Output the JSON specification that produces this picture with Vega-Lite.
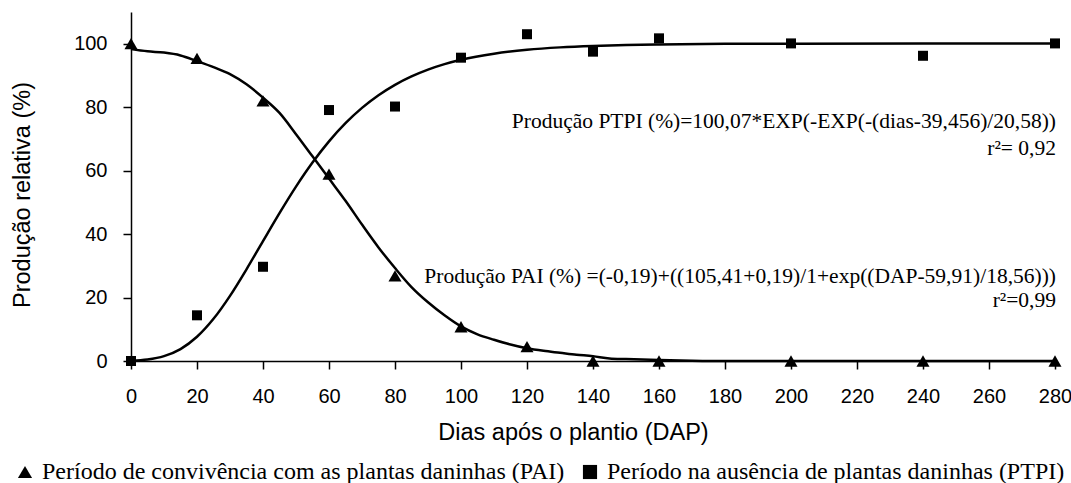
{
  "$schema": "https://vega.github.io/schema/vega-lite/v6.json",
  "width": 924,
  "height": 349,
  "autosize": {"type": "none"},
  "padding": {"left": 131, "top": 12, "right": 16, "bottom": 122},
  "background": "white",
  "config": {
    "view": {"stroke": null},
    "axis": {
      "grid": false,
      "domainColor": "black",
      "domainWidth": 1.5,
      "tickColor": "black",
      "tickWidth": 1.5,
      "tickSize": 8,
      "labelFont": "Liberation Sans",
      "labelFontSize": 20,
      "labelColor": "black",
      "titleFont": "Liberation Sans",
      "titleFontSize": 23.5,
      "titleFontWeight": "normal",
      "titleColor": "black",
      "labelFlush": false,
      "labelOverlap": false
    }
  },
  "datasets": {
    "obs": [
      {"dias": 0, "valor": 100, "serie": "Período de convivência com as plantas daninhas (PAI)"},
      {"dias": 20, "valor": 95.4, "serie": "Período de convivência com as plantas daninhas (PAI)"},
      {"dias": 40, "valor": 82.0, "serie": "Período de convivência com as plantas daninhas (PAI)"},
      {"dias": 60, "valor": 58.9, "serie": "Período de convivência com as plantas daninhas (PAI)"},
      {"dias": 80, "valor": 26.8, "serie": "Período de convivência com as plantas daninhas (PAI)"},
      {"dias": 100, "valor": 10.8, "serie": "Período de convivência com as plantas daninhas (PAI)"},
      {"dias": 120, "valor": 4.5, "serie": "Período de convivência com as plantas daninhas (PAI)"},
      {"dias": 140, "valor": 0, "serie": "Período de convivência com as plantas daninhas (PAI)"},
      {"dias": 160, "valor": 0, "serie": "Período de convivência com as plantas daninhas (PAI)"},
      {"dias": 200, "valor": 0, "serie": "Período de convivência com as plantas daninhas (PAI)"},
      {"dias": 240, "valor": 0, "serie": "Período de convivência com as plantas daninhas (PAI)"},
      {"dias": 280, "valor": 0, "serie": "Período de convivência com as plantas daninhas (PAI)"},
      {"dias": 0, "valor": 0, "serie": "Período na ausência de plantas daninhas (PTPI)"},
      {"dias": 20, "valor": 14.4, "serie": "Período na ausência de plantas daninhas (PTPI)"},
      {"dias": 40, "valor": 29.7, "serie": "Período na ausência de plantas daninhas (PTPI)"},
      {"dias": 60, "valor": 79.1, "serie": "Período na ausência de plantas daninhas (PTPI)"},
      {"dias": 80, "valor": 80.2, "serie": "Período na ausência de plantas daninhas (PTPI)"},
      {"dias": 100, "valor": 95.6, "serie": "Período na ausência de plantas daninhas (PTPI)"},
      {"dias": 120, "valor": 103.0, "serie": "Período na ausência de plantas daninhas (PTPI)"},
      {"dias": 140, "valor": 97.5, "serie": "Período na ausência de plantas daninhas (PTPI)"},
      {"dias": 160, "valor": 101.7, "serie": "Período na ausência de plantas daninhas (PTPI)"},
      {"dias": 200, "valor": 100.1, "serie": "Período na ausência de plantas daninhas (PTPI)"},
      {"dias": 240, "valor": 96.2, "serie": "Período na ausência de plantas daninhas (PTPI)"},
      {"dias": 280, "valor": 100.1, "serie": "Período na ausência de plantas daninhas (PTPI)"}
    ],
    "fit": [
      {"dias": 0, "valor": 98.3, "curva": "PAI"},
      {"dias": 5, "valor": 97.6, "curva": "PAI"},
      {"dias": 10, "valor": 97.2, "curva": "PAI"},
      {"dias": 15, "valor": 96.3, "curva": "PAI"},
      {"dias": 20, "valor": 94.5, "curva": "PAI"},
      {"dias": 25, "valor": 92.6, "curva": "PAI"},
      {"dias": 30, "valor": 90.4, "curva": "PAI"},
      {"dias": 35, "valor": 87.2, "curva": "PAI"},
      {"dias": 40, "valor": 83.0, "curva": "PAI"},
      {"dias": 45, "valor": 78.2, "curva": "PAI"},
      {"dias": 50, "valor": 71.5, "curva": "PAI"},
      {"dias": 55, "valor": 64.5, "curva": "PAI"},
      {"dias": 60, "valor": 57.5, "curva": "PAI"},
      {"dias": 65, "valor": 50.5, "curva": "PAI"},
      {"dias": 70, "valor": 43.0, "curva": "PAI"},
      {"dias": 75, "valor": 35.8, "curva": "PAI"},
      {"dias": 80, "valor": 29.3, "curva": "PAI"},
      {"dias": 85, "valor": 23.3, "curva": "PAI"},
      {"dias": 90, "valor": 18.5, "curva": "PAI"},
      {"dias": 95, "valor": 14.4, "curva": "PAI"},
      {"dias": 100, "valor": 10.9, "curva": "PAI"},
      {"dias": 105, "valor": 8.4, "curva": "PAI"},
      {"dias": 110, "valor": 6.7, "curva": "PAI"},
      {"dias": 115, "valor": 5.2, "curva": "PAI"},
      {"dias": 120, "valor": 4.0, "curva": "PAI"},
      {"dias": 125, "valor": 3.2, "curva": "PAI"},
      {"dias": 130, "valor": 2.6, "curva": "PAI"},
      {"dias": 135, "valor": 2.0, "curva": "PAI"},
      {"dias": 140, "valor": 1.5, "curva": "PAI"},
      {"dias": 145, "valor": 0.8, "curva": "PAI"},
      {"dias": 150, "valor": 0.6, "curva": "PAI"},
      {"dias": 160, "valor": 0.3, "curva": "PAI"},
      {"dias": 170, "valor": 0.1, "curva": "PAI"},
      {"dias": 180, "valor": 0, "curva": "PAI"},
      {"dias": 220, "valor": 0, "curva": "PAI"},
      {"dias": 280, "valor": 0, "curva": "PAI"},
      {"dias": 0, "valor": 0.11, "curva": "PTPI"},
      {"dias": 5, "valor": 0.48, "curva": "PTPI"},
      {"dias": 10, "valor": 1.53, "curva": "PTPI"},
      {"dias": 15, "valor": 3.76, "curva": "PTPI"},
      {"dias": 20, "valor": 7.63, "curva": "PTPI"},
      {"dias": 25, "valor": 13.29, "curva": "PTPI"},
      {"dias": 30, "valor": 20.54, "curva": "PTPI"},
      {"dias": 35, "valor": 28.91, "curva": "PTPI"},
      {"dias": 40, "valor": 37.79, "curva": "PTPI"},
      {"dias": 45, "valor": 46.62, "curva": "PTPI"},
      {"dias": 50, "valor": 54.97, "curva": "PTPI"},
      {"dias": 55, "valor": 62.55, "curva": "PTPI"},
      {"dias": 60, "valor": 69.23, "curva": "PTPI"},
      {"dias": 65, "valor": 74.95, "curva": "PTPI"},
      {"dias": 70, "valor": 79.77, "curva": "PTPI"},
      {"dias": 75, "valor": 83.77, "curva": "PTPI"},
      {"dias": 80, "valor": 87.05, "curva": "PTPI"},
      {"dias": 85, "valor": 89.7, "curva": "PTPI"},
      {"dias": 90, "valor": 91.84, "curva": "PTPI"},
      {"dias": 95, "valor": 93.56, "curva": "PTPI"},
      {"dias": 100, "valor": 94.93, "curva": "PTPI"},
      {"dias": 110, "valor": 96.87, "curva": "PTPI"},
      {"dias": 120, "valor": 98.09, "curva": "PTPI"},
      {"dias": 130, "valor": 98.85, "curva": "PTPI"},
      {"dias": 140, "valor": 99.32, "curva": "PTPI"},
      {"dias": 150, "valor": 99.61, "curva": "PTPI"},
      {"dias": 160, "valor": 99.78, "curva": "PTPI"},
      {"dias": 180, "valor": 99.96, "curva": "PTPI"},
      {"dias": 200, "valor": 100.03, "curva": "PTPI"},
      {"dias": 240, "valor": 100.07, "curva": "PTPI"},
      {"dias": 280, "valor": 100.07, "curva": "PTPI"}
    ]
  },
  "layer": [
    {
      "data": {"name": "fit"},
      "mark": {"type": "line", "color": "black", "strokeWidth": 2.5, "interpolate": "monotone"},
      "encoding": {
        "x": {
          "field": "dias", "type": "quantitative",
          "scale": {"domain": [0, 280], "nice": false, "zero": false},
          "axis": {
            "values": [0, 20, 40, 60, 80, 100, 120, 140, 160, 180, 200, 220, 240, 260, 280],
            "labelPadding": 17,
            "title": "Dias após o plantio (DAP)",
            "titleX": 442,
            "titleY": 78,
            "titleBaseline": "alphabetic"
          }
        },
        "y": {
          "field": "valor", "type": "quantitative",
          "scale": {"domain": [0, 110], "nice": false},
          "axis": {
            "values": [0, 20, 40, 60, 80, 100],
            "labelPadding": 16,
            "title": "Produção relativa (%)",
            "titleX": -101.5,
            "titleY": 182.5,
            "titleAngle": -90,
            "titleAlign": "center",
            "titleBaseline": "alphabetic"
          }
        },
        "detail": {"field": "curva", "type": "nominal"}
      }
    },
    {
      "data": {"name": "obs"},
      "transform": [{"filter": {"field": "serie", "equal": "Período de convivência com as plantas daninhas (PAI)"}}],
      "mark": {"type": "point", "filled": true, "color": "black", "opacity": 1, "strokeWidth": 0, "size": 170},
      "encoding": {
        "x": {"field": "dias", "type": "quantitative"},
        "y": {"field": "valor", "type": "quantitative"},
        "shape": {
          "field": "serie", "type": "nominal",
          "scale": {
            "domain": ["Período de convivência com as plantas daninhas (PAI)", "Período na ausência de plantas daninhas (PTPI)"],
            "range": ["triangle-up", "square"]
          },
          "legend": {
            "orient": "none",
            "legendX": -118,
            "legendY": 448,
            "direction": "horizontal",
            "title": null,
            "padding": 0,
            "labelFont": "Liberation Serif",
            "labelFontSize": 24,
            "labelColor": "black",
            "labelLimit": 2000,
            "labelOffset": 5,
            "columnPadding": 13,
            "symbolSize": 200,
            "symbolFillColor": "black",
            "symbolStrokeColor": "black",
            "symbolStrokeWidth": 0,
            "symbolOpacity": 1
          }
        }
      }
    },
    {
      "data": {"name": "obs"},
      "transform": [{"filter": {"field": "serie", "equal": "Período na ausência de plantas daninhas (PTPI)"}}],
      "mark": {"type": "point", "filled": true, "color": "black", "opacity": 1, "strokeWidth": 0, "size": 100},
      "encoding": {
        "x": {"field": "dias", "type": "quantitative"},
        "y": {"field": "valor", "type": "quantitative"},
        "shape": {"field": "serie", "type": "nominal"}
      }
    },
    {
      "data": {"values": [{"texto": "Produção PTPI (%)=100,07*EXP(-EXP(-(dias-39,456)/20,58))"}]},
      "mark": {"type": "text", "align": "right", "baseline": "alphabetic", "font": "Liberation Serif", "fontSize": 21.5, "color": "black"},
      "encoding": {
        "x": {"datum": 280.3, "type": "quantitative"},
        "y": {"datum": 73.4, "type": "quantitative"},
        "text": {"field": "texto"}
      }
    },
    {
      "data": {"values": [{"texto": "r²= 0,92"}]},
      "mark": {"type": "text", "align": "right", "baseline": "alphabetic", "font": "Liberation Serif", "fontSize": 21.5, "color": "black"},
      "encoding": {
        "x": {"datum": 280.3, "type": "quantitative"},
        "y": {"datum": 64.9, "type": "quantitative"},
        "text": {"field": "texto"}
      }
    },
    {
      "data": {"values": [{"texto": "Produção PAI (%) =(-0,19)+((105,41+0,19)/1+exp((DAP-59,91)/18,56)))"}]},
      "mark": {"type": "text", "align": "right", "baseline": "alphabetic", "font": "Liberation Serif", "fontSize": 21.5, "color": "black"},
      "encoding": {
        "x": {"datum": 280.3, "type": "quantitative"},
        "y": {"datum": 24.6, "type": "quantitative"},
        "text": {"field": "texto"}
      }
    },
    {
      "data": {"values": [{"texto": "r²=0,99"}]},
      "mark": {"type": "text", "align": "right", "baseline": "alphabetic", "font": "Liberation Serif", "fontSize": 21.5, "color": "black"},
      "encoding": {
        "x": {"datum": 280.3, "type": "quantitative"},
        "y": {"datum": 17.0, "type": "quantitative"},
        "text": {"field": "texto"}
      }
    }
  ]
}
